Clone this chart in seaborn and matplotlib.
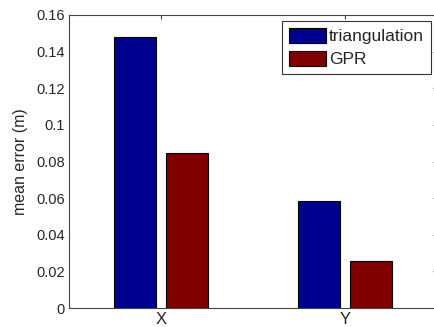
import pandas as pd
import seaborn as sns
import matplotlib.pyplot as plt

# Data
axes_names = ['X', 'Y']
methods = ['triangulation', 'GPR']
triangulation = [0.1482, 0.0584]
gpr = [0.0846, 0.0256]

df = pd.DataFrame({
    'axis': axes_names * 2,
    'method': [methods[0]] * 2 + [methods[1]] * 2,
    'error': triangulation + gpr,
})

sns.set_style('white')
plt.rcParams['font.family'] = ['Liberation Sans', 'DejaVu Sans']

fig = plt.figure(figsize=(4.35, 3.27), dpi=100)
ax = fig.add_axes([69 / 435, 19 / 327, 368 / 435, 293 / 327])

sns.barplot(data=df, x='axis', y='error', hue='method', ax=ax,
            palette=['#00008F', '#800000'], width=0.571, gap=0.2,
            edgecolor='black', linewidth=0.8, saturation=1, errorbar=None)

ax.set_xlim(-0.5, 1.5)
ax.set_ylim(0, 0.16)
yticks = [0, 0.02, 0.04, 0.06, 0.08, 0.1, 0.12, 0.14, 0.16]
ax.set_yticks(yticks)
ax.set_yticklabels(['0', '0.02', '0.04', '0.06', '0.08', '0.1', '0.12', '0.14', '0.16'])
ax.set_xlabel('')
ax.set_ylabel('mean error (m)', fontsize=11.5, labelpad=6)
ax.tick_params(direction='in', length=3, labelsize=10.5, top=True, right=True,
               color='#444444', pad=3)
ax.tick_params(axis='x', labelsize=12)
for s in ax.spines.values():
    s.set_visible(True)
    s.set_color('#444444')
    s.set_linewidth(0.8)

leg = ax.legend(loc='upper right', fontsize=12.5, frameon=True, fancybox=False,
                edgecolor='black', handlelength=2.1, handleheight=0.95,
                borderaxespad=0.35, handletextpad=0.2, labelspacing=0.35,
                borderpad=0.4)
leg.get_frame().set_linewidth(0.8)

fig.savefig('out.png', dpi=100)
